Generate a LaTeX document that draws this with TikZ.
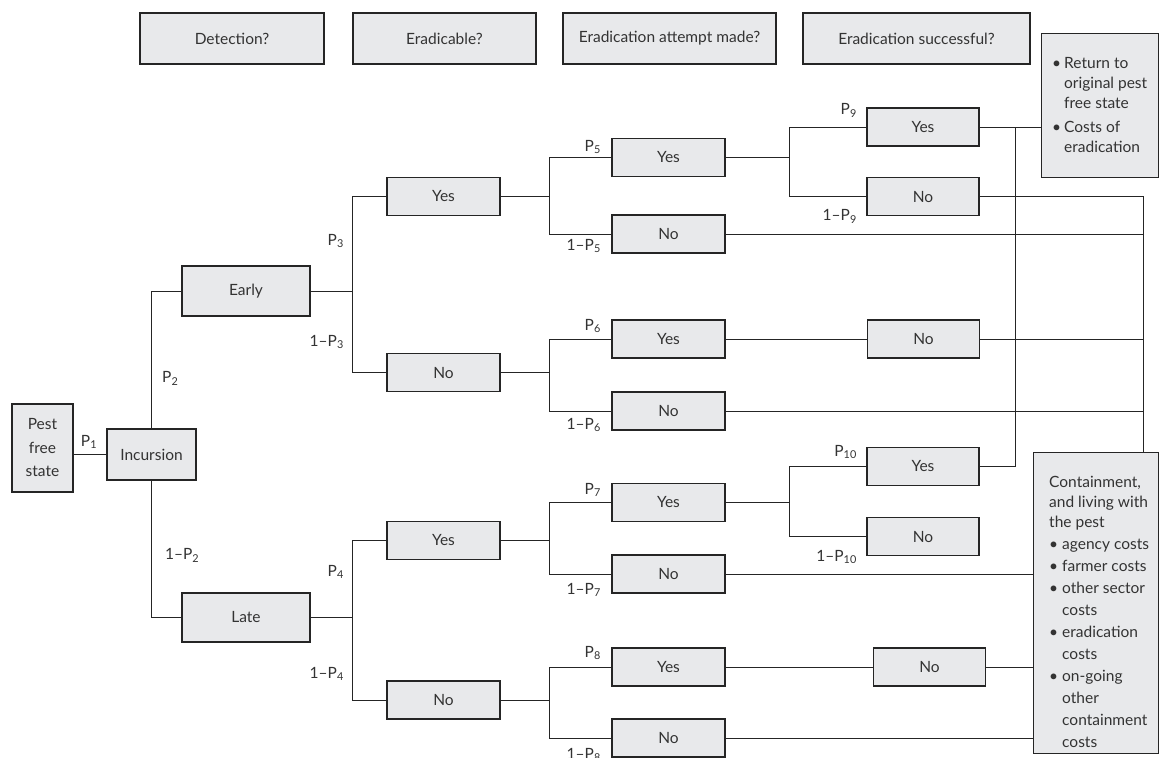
\documentclass[tikz,border=0pt]{standalone}
\usepackage{fontspec}
\setmainfont{Lato}
\usetikzlibrary{calc}
\definecolor{boxfill}{HTML}{E8E9EB}
\definecolor{ink}{HTML}{252525}
\definecolor{txt}{HTML}{333333}
\newcommand\Psub[1]{P\textsubscript{#1}}
\newcommand\Pneg[1]{1\textendash P\textsubscript{#1}}
\begin{document}
\begin{tikzpicture}[x=1pt,y=-1pt,
  every node/.style={font=\fontsize{15.5}{20}\selectfont, text=txt},
  box/.style={draw=ink, fill=boxfill, line width=1.2pt, inner sep=0pt, minimum height=38pt},
  hbox/.style={box, minimum height=51pt},
  lbox/.style={box, minimum width=113pt},
  rbox/.style={box, minimum width=112pt},
  lbl/.style={inner sep=0pt},
  conn/.style={draw=ink, line width=0.9pt},
  btext/.style={inner sep=0pt, align=left, anchor=north west}
]
\useasboundingbox (0,0) rectangle (1160,758);

% header
\node[hbox, minimum width=184pt] (hd1) at (232,38.5) {Detection?};
\node[hbox, minimum width=183pt] (hd2) at (444.5,38.5) {Eradicable?};
\node[hbox, minimum width=213pt] (hd3) at (669.5,38.5) {Eradication attempt made?};
\node[hbox, minimum width=227pt] (hd4) at (916.5,38.5) {Eradication successful?};

% tree boxes
\node[box, minimum width=61pt, minimum height=88pt, align=center,
      font=\fontsize{15.5}{23.5}\selectfont] (pest) at (42.5,448) {Pest\\free\\state};
\node[box, minimum width=89pt, minimum height=51pt] (inc) at (151.5,454.5) {Incursion};
\node[box, minimum width=128pt, minimum height=50pt] (early) at (246,291) {Early};
\node[box, minimum width=128pt, minimum height=49pt] (late) at (246,617.5) {Late};

\node[lbox] (yesA) at (443.5,196.5) {Yes};
\node[lbox] (noA) at (443.5,372.5) {No};
\node[lbox] (yesB) at (443.5,540.5) {Yes};
\node[lbox] (noB) at (443.5,700) {No};

\node[lbox] (Y5) at (668.5,157.5) {Yes};
\node[lbox] (N5) at (668.5,234) {No};
\node[lbox] (Y6) at (668.5,339) {Yes};
\node[lbox] (N6) at (668.5,411) {No};
\node[lbox] (Y7) at (668.5,502.5) {Yes};
\node[lbox] (N7) at (668.5,574) {No};
\node[lbox] (Y8) at (668.5,667) {Yes};
\node[lbox] (N8) at (668.5,738) {No};

\node[rbox] (Y9) at (923,127) {Yes};
\node[rbox] (N9) at (923,196.5) {No};
\node[rbox] (N6b) at (923.5,339) {No};
\node[rbox] (Y10) at (923,466.5) {Yes};
\node[rbox] (N10) at (923,536.5) {No};
\node[rbox] (N8b) at (929.5,667) {No};

% outcome boxes
\node[box, minimum width=117pt, minimum height=144pt, anchor=north west] (ret) at (1041,33) {};
\node[btext] (rettext) at (1052,57)
  {\makebox[12pt][l]{\textbullet}Return to\\
   \hspace*{12pt}original pest\\
   \hspace*{12pt}free state\\[4pt]
   \makebox[12pt][l]{\textbullet}Costs of\\
   \hspace*{12pt}eradication};
\node[box, minimum width=125pt, minimum height=301pt, anchor=north west] (cont) at (1033,452) {};
\node[btext] (conttext) at (1049,476)
  {Containment,\\
   and living with\\
   the pest\\[2pt]
   \makebox[13pt][l]{\textbullet}agency costs\\[2pt]
   \makebox[13pt][l]{\textbullet}farmer costs\\[2pt]
   \makebox[13pt][l]{\textbullet}other sector\\[2pt]
   \hspace*{13pt}costs\\[2pt]
   \makebox[13pt][l]{\textbullet}eradication\\[2pt]
   \hspace*{13pt}costs\\[2pt]
   \makebox[13pt][l]{\textbullet}on-going\\[2pt]
   \hspace*{13pt}other\\[2pt]
   \hspace*{13pt}containment\\[2pt]
   \hspace*{13pt}costs};

% junction coordinates
\coordinate (j3) at ($(early.east)+(42,0)$);
\coordinate (j4) at ($(late.east)+(42,0)$);
\coordinate (j5) at ($(yesA.east)+(49,0)$);
\coordinate (j6) at ($(noA.east)+(49,0)$);
\coordinate (j7) at ($(yesB.east)+(49,0)$);
\coordinate (j8) at ($(noB.east)+(49,0)$);
\coordinate (j9) at ($(Y5.east)+(64,0)$);
\coordinate (j10) at ($(Y7.east)+(64,0)$);
\coordinate (jr) at ($(Y9.east)+(36,0)$);
\coordinate (ctop) at ($(cont.north east)+(-16,0)$);

% connectors
\draw[conn] (pest.east |- inc.west) -- (inc.west);
\draw[conn] (inc.north) |- (early.west);
\draw[conn] (inc.south) |- (late.west);

\draw[conn] (early.east) -- (j3);
\draw[conn] (yesA.west) -| (j3) |- (noA.west);
\draw[conn] (late.east) -- (j4);
\draw[conn] (yesB.west) -| (j4) |- (noB.west);

\draw[conn] (yesA.east) -- (j5);
\draw[conn] (Y5.west) -| (j5) |- (N5.west);
\draw[conn] (noA.east) -- (j6);
\draw[conn] (Y6.west) -| (j6) |- (N6.west);
\draw[conn] (yesB.east) -- (j7);
\draw[conn] (Y7.west) -| (j7) |- (N7.west);
\draw[conn] (noB.east) -- (j8);
\draw[conn] (Y8.west) -| (j8) |- (N8.west);

\draw[conn] (Y5.east) -- (j9);
\draw[conn] (Y9.west) -| (j9) |- (N9.west);
\draw[conn] (Y7.east) -- (j10);
\draw[conn] (Y10.west) -| (j10) |- (N10.west);

\draw[conn] (Y6.east) -- (N6b.west);
\draw[conn] (Y8.east) -- (N8b.west);

\draw[conn] (Y9.east) -- (Y9.east -| ret.west);
\draw[conn] (Y10.east) -| (jr);

\draw[conn] (N9.east) -| (ctop);
\draw[conn] (N5.east) -- (N5.east -| ctop);
\draw[conn] (N6b.east) -- (N6b.east -| ctop);
\draw[conn] (N6.east) -- (N6.east -| ctop);

\draw[conn] (N7.east) -- (N7.east -| cont.west);
\draw[conn] (N8b.east) -- (N8b.east -| cont.west);
\draw[conn] (N8.east) -- (N8.east -| cont.west);

% probability labels
\node[lbl] (p1) at (89,442) {\Psub{1}};
\node[lbl, anchor=west] (p2) at (162,378) {\Psub{2}};
\node[lbl, anchor=west] (q2) at (165,555) {\Pneg{2}};
\node[lbl, anchor=east] (p3) at (344,241) {\Psub{3}};
\node[lbl, anchor=east] (q3) at (344,342) {\Pneg{3}};
\node[lbl, anchor=east] (p4) at (344,572) {\Psub{4}};
\node[lbl, anchor=east] (q4) at (344,674) {\Pneg{4}};
\node[lbl, anchor=east] (p5) at (601,147) {\Psub{5}};
\node[lbl, anchor=east] (q5) at (601,246) {\Pneg{5}};
\node[lbl, anchor=east] (p6) at (601,326) {\Psub{6}};
\node[lbl, anchor=east] (q6) at (601,425) {\Pneg{6}};
\node[lbl, anchor=east] (p7) at (601,490) {\Psub{7}};
\node[lbl, anchor=east] (q7) at (601,590) {\Pneg{7}};
\node[lbl, anchor=east] (p8) at (601,653) {\Psub{8}};
\node[lbl, anchor=east] (q8) at (601,755) {\Pneg{8}};
\node[lbl, anchor=east] (p9) at (857,110) {\Psub{9}};
\node[lbl, anchor=east] (q9) at (857,216) {\Pneg{9}};
\node[lbl, anchor=east] (p10) at (857,452) {\Psub{10}};
\node[lbl, anchor=east] (q10) at (857,557) {\Pneg{10}};
\end{tikzpicture}
\end{document}
